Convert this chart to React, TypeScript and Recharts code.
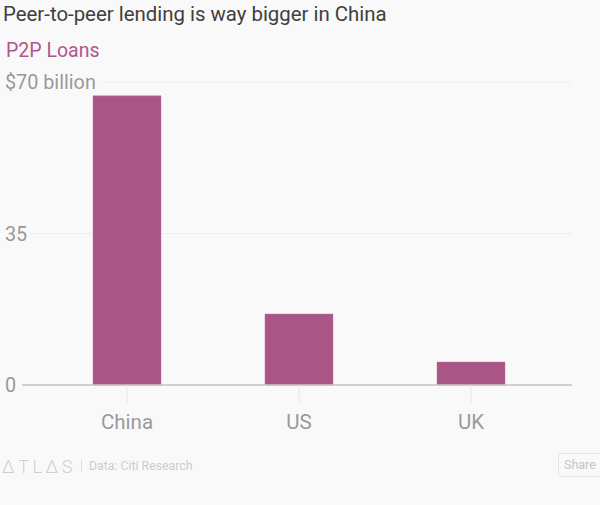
import { BarChart, Bar, XAxis, YAxis, CartesianGrid } from "recharts";

const CATEGORIES = ["China", "US", "UK"];
const LOANS = [66.8, 16.4, 5.3];
const Y_TICKS = [0, 35, 70];
const Y_LABELS = ["0", "35", "$70 billion"];

const BG = "#f9f9f9";
const FONT = "Roboto, 'Noto Sans', sans-serif";
const DATA = CATEGORIES.map((name, i) => ({ name, loans: LOANS[i] }));

function YTick({ y, payload }: any) {
  const i = Y_TICKS.indexOf(payload.value);
  const label = Y_LABELS[i];
  const w = i === 2 ? 80 : i === 1 ? 8 : 0;
  return (
    <g>
      {/* hides the start of the gridline behind the label */}
      <rect x={22} y={y - 12} width={w} height={24} fill={BG} />
      <text x={5} y={y + 7} fontSize={19.8} fill="#999999" fontFamily={FONT}>
        {label}
      </text>
    </g>
  );
}

function Text({ left, top, size, color, children, extra }: any) {
  return (
    <div
      style={{
        position: "absolute",
        left,
        top,
        fontSize: size,
        lineHeight: 1,
        color,
        fontFamily: FONT,
        whiteSpace: "nowrap",
        ...extra,
      }}
    >
      {children}
    </div>
  );
}

export default function App() {
  return (
    <div style={{ position: "fixed", left: 0, top: 0, width: 600, height: 505, background: BG, overflow: "hidden" }}>
      <Text left={3} top={4} size={20.4} color="#3f3f3f">Peer-to-peer lending is way bigger in China</Text>
      <Text left={6} top={41} size={19.5} color="#b0568f">P2P Loans</Text>
      <BarChart
        width={600}
        height={505}
        data={DATA}
        margin={{ top: 82, right: 28, bottom: 0, left: 0 }}
        style={{ position: "absolute", left: 0, top: 0 }}
      >
        <CartesianGrid horizontal vertical={false} stroke="#eeeeee" strokeWidth={1} />
        <XAxis
          dataKey="name"
          padding={{ left: 19, right: 15 }}
          axisLine={{ stroke: "#c4c4c4", strokeWidth: 1.5 }}
          tickLine={{ stroke: "#e8e8e8" }}
          tickSize={18}
          tickMargin={11}
          tick={{ fontSize: 20.5, fill: "#999999", fontFamily: FONT }}
          interval={0}
          height={120}
        />
        <YAxis
          width={22}
          domain={[0, 70]}
          ticks={Y_TICKS}
          axisLine={false}
          tickLine={false}
          tick={<YTick />}
          interval={0}
        />
        <Bar dataKey="loans" fill="#a95686" stroke="#bd7ba3" strokeWidth={0.5} barSize={68} isAnimationActive={false} />
      </BarChart>
      <Text left={2} top={458} size={18} color="#cfcfcf" extra={{ letterSpacing: 3.6, fontWeight: 300 }}>ΔTLΔS</Text>
      <div style={{ position: "absolute", left: 81, top: 460, width: 1, height: 12, background: "#dddddd" }} />
      <Text left={89} top={460} size={12.3} color="#cccccc">Data: Citi Research</Text>
      <div
        style={{
          position: "absolute",
          left: 558,
          top: 453,
          width: 50,
          height: 24,
          boxSizing: "border-box",
          border: "1px solid #e6e6e6",
          borderRadius: 3,
          fontFamily: FONT,
          fontSize: 12.5,
          lineHeight: "22px",
          paddingLeft: 5,
          color: "#c4c4c4",
        }}
      >
        Share
      </div>
    </div>
  );
}
